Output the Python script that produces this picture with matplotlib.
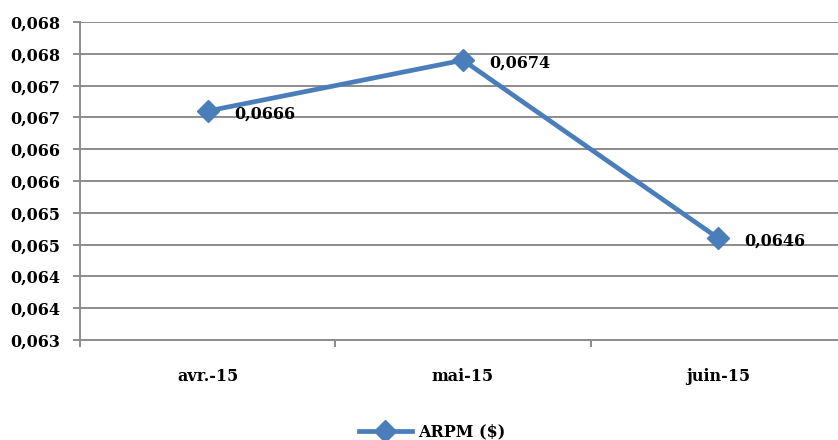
import matplotlib
matplotlib.use("Agg")
import matplotlib.pyplot as plt
from matplotlib.ticker import FixedLocator

categories = ["avr.-15", "mai-15", "juin-15"]
arpm_values = [0.0666, 0.0674, 0.0646]
value_labels = ["0,0666", "0,0674", "0,0646"]
y_ticks = [0.0630, 0.0635, 0.0640, 0.0645, 0.0650, 0.0655, 0.0660, 0.0665, 0.0670, 0.0675, 0.0680]
y_tick_labels = ["0,063", "0,064", "0,064", "0,065", "0,065", "0,066", "0,066", "0,067", "0,067", "0,068", "0,068"]
series_name = "ARPM ($)"

plt.rcParams['font.family'] = ['DejaVu Serif']
plt.rcParams['font.weight'] = 'bold'

W, H = 838, 440
fig = plt.figure(figsize=(W / 100, H / 100), dpi=100)
ax = fig.add_axes([80 / W, (H - 340) / H, (846 - 80) / W, (340 - 22) / H])

color = "#4A7EBB"
grid_c = "#8C8C8C"
fs = 11.5
x = list(range(len(categories)))
line, = ax.plot(x, arpm_values, color=color, lw=3.4, marker="D", markersize=11,
                label=series_name, zorder=3, clip_on=False)

for xi, v, lab in zip(x, arpm_values, value_labels):
    ax.annotate(lab, (xi, v), xytext=(19, -2), textcoords="offset points",
                ha="left", va="center", fontsize=fs, fontweight="bold", color="black")

ax.set_xlim(-0.5, 2.5)
ax.set_ylim(0.0630, 0.0680)
ax.yaxis.set_major_locator(FixedLocator(y_ticks))
ax.set_yticklabels(y_tick_labels)
ax.set_xticks(x)
ax.set_xticklabels(categories)
ax.set_xticks([-0.5, 0.5, 1.5, 2.5], minor=True)

ax.grid(axis="y", color=grid_c, lw=1.4)
ax.set_axisbelow(True)
for s in ["top", "right"]:
    ax.spines[s].set_visible(False)
for s in ["left", "bottom"]:
    ax.spines[s].set_color(grid_c)
    ax.spines[s].set_linewidth(1.4)

ax.tick_params(axis="y", which="major", length=5, width=1.4, color=grid_c,
               labelsize=fs, pad=9)
ax.tick_params(axis="x", which="major", length=0, labelsize=fs, pad=20)
ax.tick_params(axis="x", which="minor", length=5, width=1.4, color=grid_c)
for lbl in ax.get_xticklabels() + ax.get_yticklabels():
    lbl.set_fontweight("bold")

fig.legend(handles=[line], labels=[series_name], loc="center",
           bbox_to_anchor=(432 / W, 8 / H), frameon=False,
           handlelength=3.3, handletextpad=0.4, prop={"weight": "bold", "size": fs})

fig.savefig("out.png", dpi=100)
